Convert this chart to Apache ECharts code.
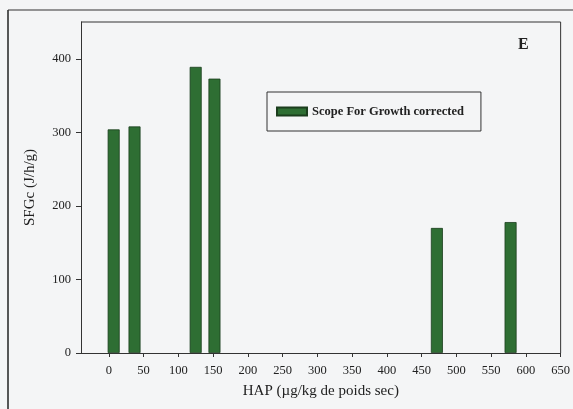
<!DOCTYPE html>
<html lang="en">
  <head>
    <meta charset="UTF-8">
    <title>SFGc</title>
    <script src="https://cdn.jsdelivr.net/npm/echarts@6/dist/echarts.min.js"></script>
    <style>
      html, body { margin: 0; padding: 0; background: #f4f5f6; }
      #chart { width: 573px; height: 409px; }
    </style>
  </head>
  <body>
    <div id="chart"></div>
    <script>
      // HAP concentration (x) and SFGc value (y) for each bar
      const hapValues = [7, 37, 125, 152, 472, 578]
      const sfgValues = [304, 308, 389, 373, 170, 178]
      const xTicks = [0, 50, 100, 150, 200, 250, 300, 350, 400, 450, 500, 550, 600, 650]
      const yTicks = [0, 100, 200, 300, 400]
      const seriesName = 'Scope For Growth corrected'

      const font = 'Liberation Serif'
      const barData = hapValues.map((x, i) => [x, sfgValues[i]])

      const frame = [
        { type: 'line', shape: { x1: 8, y1: 10, x2: 8, y2: 409 }, style: { stroke: '#222', lineWidth: 1.5 } },
        { type: 'line', shape: { x1: 8, y1: 10, x2: 573, y2: 10 }, style: { stroke: '#333', lineWidth: 1.2 } },
        { type: 'text', left: 518, top: 37, style: { text: 'E', font: 'bold 16px ' + font, fill: '#222' } }
      ]

      const chart = echarts.init(document.getElementById('chart'))
      chart.setOption({
        backgroundColor: '#f4f5f6',
        animation: false,
        textStyle: { fontFamily: font, color: '#222' },
        grid: { left: 81, top: 22, right: 11, bottom: 56 },
        legend: {
          data: [{ name: seriesName, icon: 'rect' }],
          left: 267,
          top: 92,
          padding: [13, 17, 13, 9],
          borderColor: '#333',
          borderWidth: 1,
          itemWidth: 30,
          itemHeight: 8,
          itemGap: 6,
          textStyle: { fontFamily: font, fontWeight: 'bold', fontSize: 12.5, color: '#222' }
        },
        graphic: frame,
        xAxis: {
          type: 'value',
          min: -40,
          max: 650,
          name: 'HAP (µg/kg de poids sec)',
          nameLocation: 'middle',
          nameGap: 31,
          nameTextStyle: { fontFamily: font, fontSize: 15, color: '#222' },
          splitLine: { show: false },
          axisLine: { show: true, onZero: false, lineStyle: { color: '#333' } },
          axisTick: { show: true, customValues: xTicks, length: 4, lineStyle: { color: '#333' } },
          axisLabel: { customValues: xTicks, fontFamily: font, fontSize: 12.5, color: '#222', margin: 11 }
        },
        yAxis: {
          type: 'value',
          min: 0,
          max: 450,
          name: 'SFGc (J/h/g)',
          nameLocation: 'middle',
          nameGap: 43,
          nameTextStyle: { fontFamily: font, fontSize: 15, color: '#222' },
          splitLine: { show: false },
          axisLine: { show: true, onZero: false, lineStyle: { color: '#333' } },
          axisTick: { show: true, customValues: yTicks, length: 5, lineStyle: { color: '#333' } },
          axisLabel: { customValues: yTicks, fontFamily: font, fontSize: 12.5, color: '#222', margin: 10 }
        },
        series: [{
          name: seriesName,
          type: 'bar',
          barWidth: 12,
          data: barData,
          itemStyle: { color: '#2e6e33', borderColor: '#1b3d1d', borderWidth: 0.8 }
        }]
      })
      // right and top borders of the plot box
      const tl = chart.convertToPixel('grid', [-40, 450])
      const br = chart.convertToPixel('grid', [650, 0])
      chart.setOption({
        graphic: frame.concat([
          { type: 'polyline', shape: { points: [[tl[0], tl[1]], [br[0], tl[1]], [br[0], br[1]]] }, style: { stroke: '#333', lineWidth: 1, fill: null } }
        ])
      })
    </script>
  </body>
</html>
